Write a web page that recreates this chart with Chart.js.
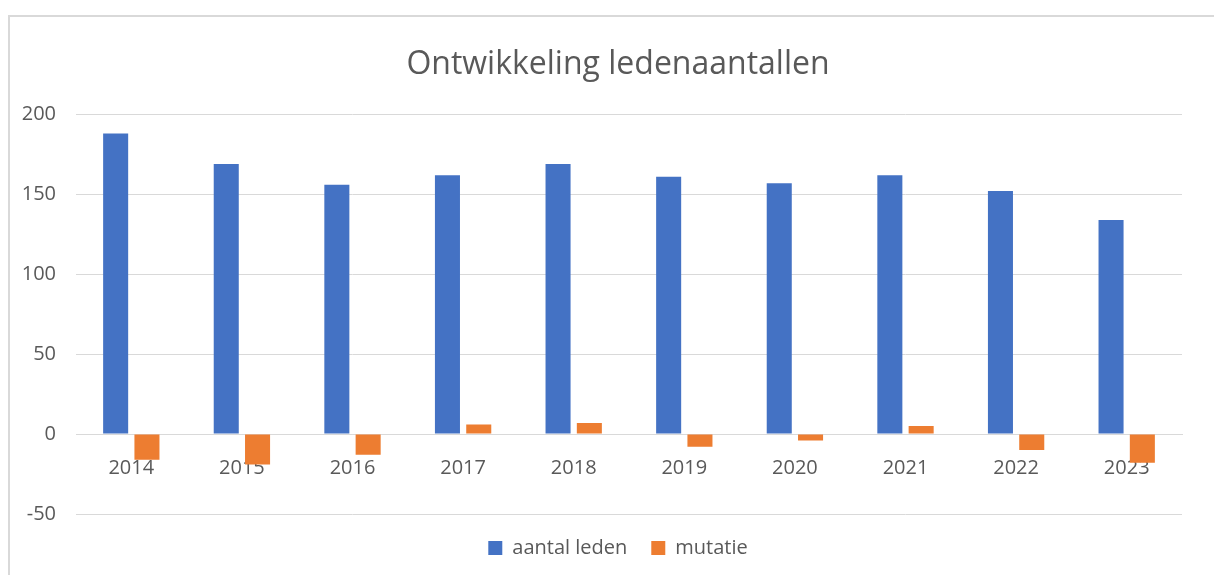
<!DOCTYPE html>
<html>
<head>
<meta charset="utf-8">
<script src="https://cdn.jsdelivr.net/npm/chart.js@4"></script>
<style>
  html, body { margin: 0; padding: 0; background: #fff; overflow: hidden; }
  #frame {
    position: absolute; left: 8px; top: 15px;
    width: 1218px; height: 564px;
    border-left: 2px solid #d9d9d9; border-top: 2px solid #d9d9d9;
  }
  #wrap { position: absolute; left: 0; top: 0; width: 1216px; height: 562px; }
</style>
</head>
<body>
<div id="frame"><div id="wrap"><canvas id="myChart"></canvas></div></div>
<script>
// Data
const years = ['2014', '2015', '2016', '2017', '2018', '2019', '2020', '2021', '2022', '2023'];
const aantalLeden = [188, 169, 156, 162, 169, 161, 157, 162, 152, 134];
const mutatie = [-16, -19, -13, 6, 7, -8, -4, 5, -10, -18];

const textColor = '#595959';
const gridColor = '#d9d9d9';
const fontFamily = "'Open Sans', 'Liberation Sans', sans-serif";

new Chart(document.getElementById('myChart'), {
    type: 'bar',
    data: {
        labels: years,
        datasets: [{
            label: 'aantal leden',
            data: aantalLeden,
            backgroundColor: '#4472C4',
            categoryPercentage: 0.566,
            barPercentage: 0.8
        }, {
            label: 'mutatie',
            data: mutatie,
            backgroundColor: '#ED7D31',
            categoryPercentage: 0.566,
            barPercentage: 0.8
        }]
    },
    options: {
        responsive: true,
        maintainAspectRatio: false,
        animation: false,
        layout: { padding: { left: 0, right: 0, top: 0, bottom: 11 } },
        plugins: {
            title: {
                display: true,
                text: 'Ontwikkeling ledenaantallen',
                color: textColor,
                font: { family: fontFamily, size: 32, weight: 'normal' },
                padding: { top: 29, bottom: 30 }
            },
            legend: {
                position: 'bottom',
                labels: {
                    color: textColor,
                    font: { family: fontFamily, size: 20 },
                    boxWidth: 14,
                    boxHeight: 14,
                    padding: 24
                }
            },
            tooltip: { enabled: false }
        },
        scales: {
            x: {
                position: { y: 0 },
                grid: { display: false },
                border: { display: true, color: gridColor },
                ticks: {
                    color: textColor,
                    font: { family: fontFamily, size: 20 },
                    padding: 14
                }
            },
            y: {
                min: -50,
                max: 200,
                ticks: {
                    stepSize: 50,
                    color: textColor,
                    font: { family: fontFamily, size: 20 },
                    padding: 20
                },
                grid: { color: gridColor, lineWidth: 1, drawTicks: false },
                border: { display: false },
                afterFit: (scale) => { scale.width = 66; }
            },
            // empty right margin so title and legend centre like the original
            yRight: {
                position: 'right',
                min: -50,
                max: 200,
                grid: { display: false },
                border: { display: false },
                ticks: { display: false },
                afterFit: (scale) => { scale.width = 44; }
            }
        }
    }
});
</script>
</body>
</html>
